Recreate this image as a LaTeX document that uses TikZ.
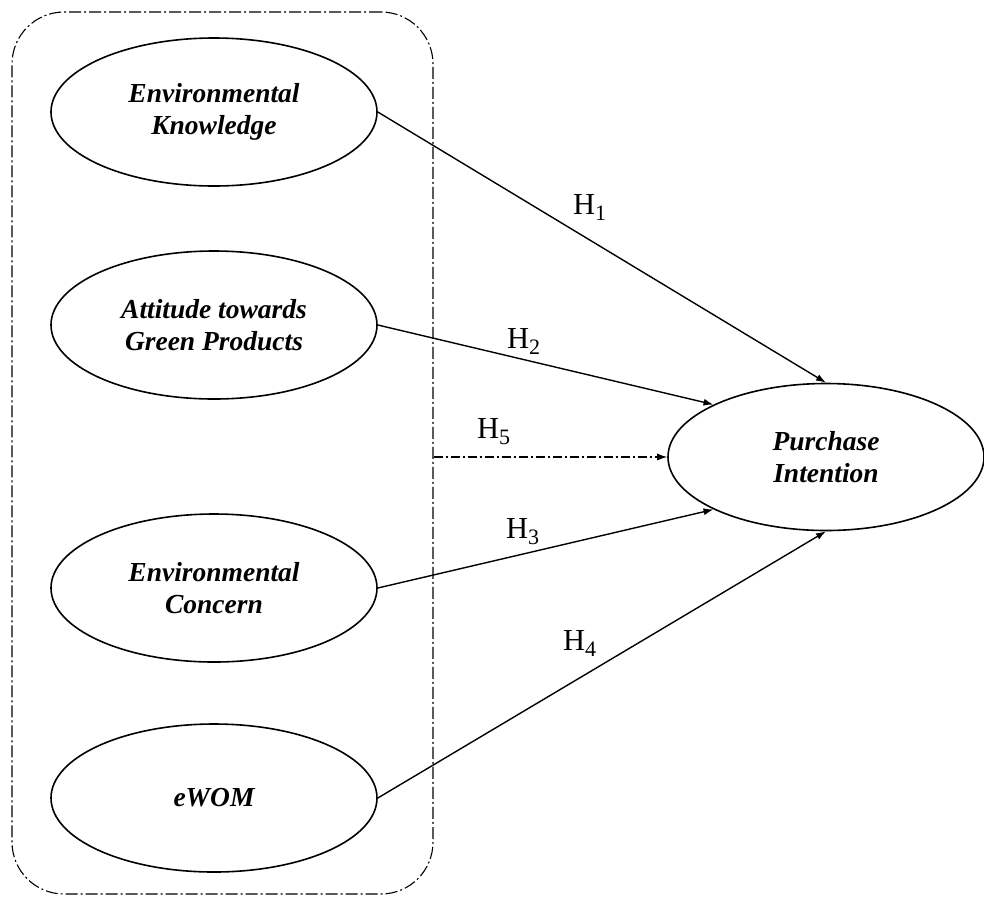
\documentclass[tikz,border=0pt]{standalone}
\usepackage{fontspec}
\setmainfont{Liberation Serif}
\usetikzlibrary{shapes.geometric,arrows.meta}
\begin{document}
\begin{tikzpicture}[x=1pt,y=-1pt,
  construct/.style={draw, ellipse, line width=1.6pt, minimum width=326pt, minimum height=148pt, inner sep=0pt, align=center, font=\fontsize{27.5}{32}\selectfont\bfseries\itshape},
  groupbox/.style={draw, line width=1.1pt, rounded corners=52pt, dash pattern=on 12pt off 3pt on 2pt off 3pt, minimum width=421pt, minimum height=882pt, inner sep=0pt},
  path/.style={line width=1.4pt, -{Latex[length=10pt,width=7pt]}},
  hyp/.style={anchor=base west, inner sep=0pt, font=\fontsize{30.5}{32}\selectfont}
]
\useasboundingbox (0,0) rectangle (984,898);
\node[groupbox] (box) at (222.5,453) {};
\node[construct] (ek) at (214,112) {Environmental\\Knowledge};
\node[construct] (at) at (214,325) {Attitude towards\\Green Products};
\node[construct] (ec) at (214,588) {Environmental\\Concern};
\node[construct] (ew) at (214,798) {eWOM};
\node[construct, minimum width=316pt, minimum height=147pt] (pi) at (826,457) {Purchase\\Intention};
\draw[path] (ek.east) -- (pi.north);
\draw[path] (at.east) -- (pi.155);
\draw[path] (ec.east) -- (pi.205);
\draw[path] (ew.east) -- (pi.south);
\draw[path, line width=1.1pt, dash pattern=on 9pt off 3pt on 2pt off 3pt] (box.east |- pi.west) -- (pi.west);
\newcommand{\hsub}[1]{H\raisebox{-6pt}{\fontsize{22}{22}\selectfont #1}}
\node[hyp] (h1) at (573,214) {\hsub{1}};
\node[hyp] (h2) at (507,348) {\hsub{2}};
\node[hyp] (h5) at (477,438) {\hsub{5}};
\node[hyp] (h3) at (506,538) {\hsub{3}};
\node[hyp] (h4) at (563,650) {\hsub{4}};
\end{tikzpicture}
\end{document}
